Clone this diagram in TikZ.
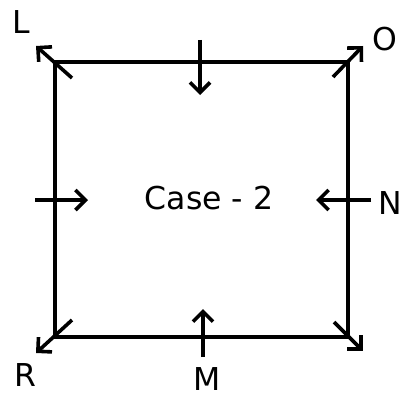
\documentclass[tikz,border=0pt]{standalone}
\usepackage{fontspec}
\setmainfont{DejaVu Sans}
\usetikzlibrary{arrows.meta}
\begin{document}
\begin{tikzpicture}[x=1pt,y=-1pt,
  edge/.style={line width=3.6pt},
  arr/.style={line width=3.6pt,-{Straight Barb[length=10pt,width=20pt]}},
  lbl/.style={font=\fontsize{31.5}{31.5}\selectfont,inner sep=0pt}]
\useasboundingbox (0,0) rectangle (401,396);
\coordinate (tl) at (55,62);
\coordinate (tr) at (348,62);
\coordinate (bl) at (55,337);
\coordinate (br) at (348,337);
\draw[edge] (tl) -- (tr) -- (br) -- (bl) -- cycle;
% corner arrows
\coordinate (tls) at (72,78);  \coordinate (tle) at (36,46);
\coordinate (trs) at (333,77); \coordinate (tre) at (363,46);
\coordinate (bls) at (72,320); \coordinate (ble) at (36,353);
\coordinate (brs) at (334,322);\coordinate (bre) at (363,351);
\draw[arr] (tls) -- (tle);
\draw[arr] (trs) -- (tre);
\draw[arr] (bls) -- (ble);
\draw[arr] (brs) -- (bre);
% side arrows
\coordinate (ts) at (200,40);  \coordinate (te) at (200,95);
\coordinate (ls) at (35,200);  \coordinate (le) at (88,200);
\coordinate (rs) at (371,200); \coordinate (re) at (316,200);
\coordinate (bs) at (203,357); \coordinate (be) at (203,309);
\draw[arr] (ts) -- (te);
\draw[arr] (ls) -- (le);
\draw[arr] (rs) -- (re);
\draw[arr] (bs) -- (be);
% labels
\node[lbl] (L) at (21,22) {L};
\node[lbl] (O) at (385,39) {O};
\node[lbl] (R) at (25,375) {R};
\node[lbl] (N) at (390,203) {N};
\node[lbl] (M) at (207,379) {M};
\node[lbl] (case) at (209,198) {Case - 2};
\end{tikzpicture}
\end{document}
